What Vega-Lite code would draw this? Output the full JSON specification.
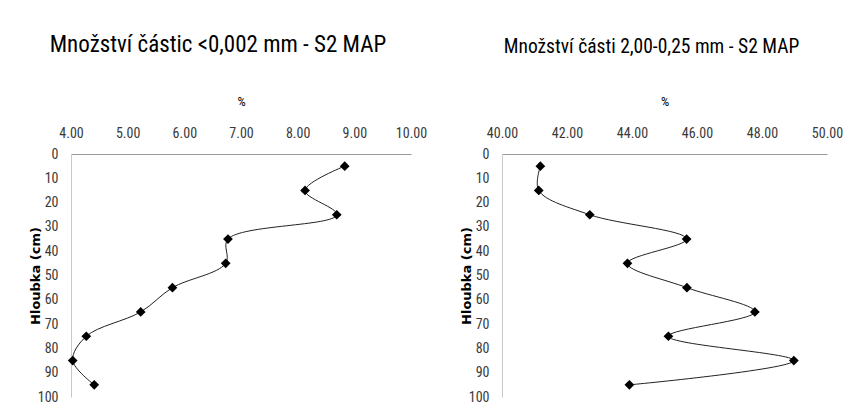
{
  "$schema": "https://vega.github.io/schema/vega-lite/v6.json",
  "background": "white",
  "padding": {"left": 29, "top": 34, "right": 5, "bottom": 5},
  "spacing": 91,
  "bounds": "flush",
  "datasets": {
    "clay": [
      {"depth": 5, "pct": 8.83},
      {"depth": 15, "pct": 8.13},
      {"depth": 25, "pct": 8.69},
      {"depth": 35, "pct": 6.77},
      {"depth": 45, "pct": 6.73},
      {"depth": 55, "pct": 5.79},
      {"depth": 65, "pct": 5.23},
      {"depth": 75, "pct": 4.27},
      {"depth": 85, "pct": 4.03},
      {"depth": 95, "pct": 4.41}
    ],
    "sand": [
      {"depth": 5, "pct": 41.18},
      {"depth": 15, "pct": 41.13},
      {"depth": 25, "pct": 42.7},
      {"depth": 35, "pct": 45.68},
      {"depth": 45, "pct": 43.86},
      {"depth": 55, "pct": 45.69},
      {"depth": 65, "pct": 47.78},
      {"depth": 75, "pct": 45.12},
      {"depth": 85, "pct": 48.98},
      {"depth": 95, "pct": 43.92}
    ]
  },
  "config": {
    "view": {"stroke": null},
    "axis": {
      "grid": false,
      "ticks": false,
      "tickSize": 0,
      "labelFont": "Roboto Condensed",
      "labelFontSize": 14,
      "labelColor": "#3a3a3a",
      "titleColor": "#000000"
    },
    "title": {
      "font": "Roboto Condensed",
      "fontWeight": "normal",
      "color": "#000000",
      "anchor": "middle",
      "frame": "bounds"
    }
  },
  "hconcat": [
    {
      "title": {"text": "Množství částic <0,002 mm - S2 MAP", "fontSize": 23, "offset": 38, "dx": -10},
      "width": 340,
      "height": 243,
      "data": {"name": "clay"},
      "encoding": {
        "x": {
          "field": "pct", "type": "quantitative",
          "scale": {"domain": [4, 10], "nice": false, "zero": false},
          "axis": {
            "orient": "top", "values": [4, 5, 6, 7, 8, 9, 10], "format": ".2f",
            "title": "%", "titleFont": "Roboto Condensed", "titleFontSize": 13, "titleFontWeight": "normal",
            "labelPadding": 14, "titlePadding": 18, "domainColor": "#999999", "labelFlush": false
          }
        },
        "y": {
          "field": "depth", "type": "quantitative",
          "scale": {"domain": [0, 100], "reverse": true, "nice": false},
          "axis": {
            "values": [0, 10, 20, 30, 40, 50, 60, 70, 80, 90, 100],
            "title": "Hloubka (cm)", "titleFont": "DejaVu Sans", "titleFontSize": 13, "titleFontWeight": "bold",
            "labelPadding": 13, "titlePadding": -5, "domainColor": "#c8c8c8", "labelFlush": false
          }
        },
        "order": {"field": "depth", "type": "quantitative"}
      },
      "layer": [
        {"mark": {"type": "line", "interpolate": "catmull-rom", "color": "#222222", "strokeWidth": 1}},
        {"mark": {"type": "point", "shape": "diamond", "filled": true, "color": "#000000", "size": 95, "opacity": 1}}
      ]
    },
    {
      "title": {"text": "Množství části 2,00-0,25 mm - S2 MAP", "fontSize": 19.5, "offset": 38},
      "width": 325,
      "height": 243,
      "data": {"name": "sand"},
      "encoding": {
        "x": {
          "field": "pct", "type": "quantitative",
          "scale": {"domain": [40, 50], "nice": false, "zero": false},
          "axis": {
            "orient": "top", "values": [40, 42, 44, 46, 48, 50], "format": ".2f",
            "title": "%", "titleFont": "Roboto Condensed", "titleFontSize": 13, "titleFontWeight": "normal",
            "labelPadding": 14, "titlePadding": 18, "domainColor": "#999999", "labelFlush": false
          }
        },
        "y": {
          "field": "depth", "type": "quantitative",
          "scale": {"domain": [0, 100], "reverse": true, "nice": false},
          "axis": {
            "values": [0, 10, 20, 30, 40, 50, 60, 70, 80, 90, 100],
            "title": "Hloubka (cm)", "titleFont": "DejaVu Sans", "titleFontSize": 13, "titleFontWeight": "bold",
            "labelPadding": 13, "titlePadding": -5, "domainColor": "#c8c8c8", "labelFlush": false
          }
        },
        "order": {"field": "depth", "type": "quantitative"}
      },
      "layer": [
        {"mark": {"type": "line", "interpolate": "catmull-rom", "color": "#222222", "strokeWidth": 1}},
        {"mark": {"type": "point", "shape": "diamond", "filled": true, "color": "#000000", "size": 95, "opacity": 1}}
      ]
    }
  ]
}
